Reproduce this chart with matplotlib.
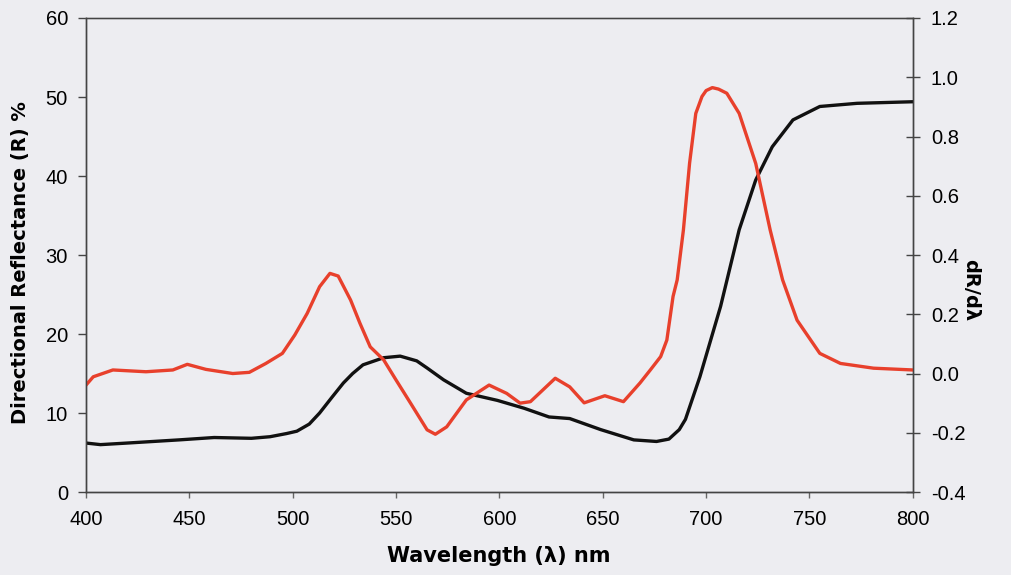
import matplotlib
matplotlib.use("Agg")
import matplotlib.pyplot as plt

# reflectance curve (left axis, %)
wl_r = [400, 407, 420, 445, 462, 480, 489, 497, 502, 508, 513, 519, 524.5, 529,
        534, 544, 552, 560, 565, 573, 584, 599, 612, 624, 634, 649, 665, 676,
        682, 687, 690, 697, 707, 716, 724, 732, 742, 755, 773, 800]
refl = [6.2, 6.0, 6.2, 6.6, 6.9, 6.8, 7.0, 7.4, 7.7, 8.6, 10.0, 12.0, 13.8, 15.0,
        16.1, 17.0, 17.2, 16.6, 15.7, 14.2, 12.5, 11.6, 10.6, 9.5, 9.3, 7.9, 6.6,
        6.4, 6.7, 7.9, 9.2, 14.6, 23.5, 33.2, 39.5, 43.7, 47.1, 48.8, 49.2, 49.4]

# first derivative (right axis)
wl_d = [400, 403.5, 413, 429, 442, 449, 458, 471, 479, 487, 495, 501, 507, 513,
        518, 522, 528, 532.5, 537.5, 544, 550, 557, 565, 569, 574.5, 584, 595,
        603.5, 610, 615, 627, 634, 641, 651, 660, 668, 673, 678, 681, 684, 686,
        689, 692, 695, 698, 700, 703, 706, 710, 716, 724, 731, 737, 744, 755,
        765, 781, 800]
dRdl = [-0.039, -0.011, 0.012, 0.006, 0.012, 0.031, 0.014, 0.0, 0.004, 0.034,
        0.068, 0.13, 0.203, 0.293, 0.338, 0.329, 0.248, 0.17, 0.09, 0.046,
        -0.022, -0.1, -0.19, -0.205, -0.18, -0.089, -0.039, -0.067, -0.1, -0.095,
        -0.016, -0.045, -0.099, -0.075, -0.095, -0.032, 0.012, 0.057, 0.113,
        0.26, 0.316, 0.484, 0.71, 0.878, 0.935, 0.955, 0.965, 0.96, 0.946, 0.878,
        0.709, 0.484, 0.316, 0.18, 0.068, 0.034, 0.018, 0.012]

bg = "#ededf1"
plt.rcParams['font.family'] = ['Liberation Sans', 'DejaVu Sans']

fig = plt.figure(figsize=(10.12, 5.75), dpi=100, facecolor=bg)
ax = fig.add_axes([0.085, 0.1443, 0.817, 0.8244])
ax.set_facecolor(bg)
ax2 = ax.twinx()

ax.plot(wl_r, refl, color="#111111", lw=2.4, zorder=3)
ax2.plot(wl_d, dRdl, color="#e8402c", lw=2.4, zorder=2)

ax.set_xlim(400, 800)
ax.set_ylim(0, 60)
ax2.set_ylim(-0.4, 1.2)
ax.set_xticks(range(400, 801, 50))
ax.set_yticks(range(0, 61, 10))
ax2.set_yticks([-0.4, -0.2, 0.0, 0.2, 0.4, 0.6, 0.8, 1.0, 1.2])
ax2.set_yticklabels([f"{v:.1f}" for v in ax2.get_yticks()])

for a in (ax, ax2):
    for s in a.spines.values():
        s.set_color("#444444")
        s.set_linewidth(1.0)
ax.spines['top'].set_color("#888888")

ax.tick_params(axis='y', direction='out', length=6, width=1, pad=7,
               labelsize=14.5, color="#444444")
ax.tick_params(axis='x', direction='out', length=4, width=1, pad=9,
               labelsize=14.5, color="#666666")
ax2.tick_params(axis='y', direction='inout', length=10, width=1, pad=8,
                labelsize=14.5, color="#444444")

lab = dict(fontweight='bold', family=['DejaVu Sans'])
ax.set_xlabel("Wavelength (λ) nm", fontsize=15, va='center', **lab)
ax.xaxis.set_label_coords(0.4994, -0.135)
ax.set_ylabel("Directional Reflectance (R) %", fontsize=14, va='center', **lab)
ax.yaxis.set_label_coords(-0.079, 0.485)
ax2.set_ylabel("dR/dλ", fontsize=14, rotation=270, va='center', **lab)
ax2.yaxis.set_label_coords(1.07, 0.426)

fig.savefig("out.png", dpi=100, facecolor=bg)
